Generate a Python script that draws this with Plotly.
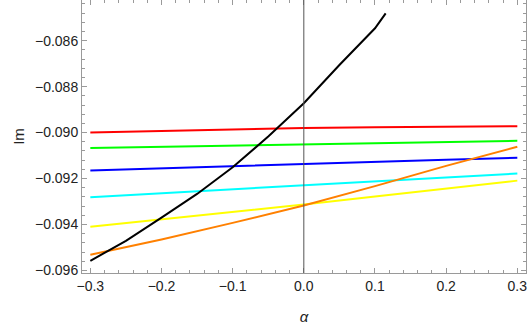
import plotly.graph_objects as go

# alpha grid shared by the straight-ish curves
alpha = [-0.3, -0.2, -0.1, 0.0, 0.1, 0.2, 0.3]

im_red = [-0.09000, -0.08993, -0.08986, -0.08980, -0.08977, -0.08974, -0.08972]
im_green = [-0.09067, -0.09062, -0.09057, -0.09052, -0.09047, -0.09041, -0.09036]
im_blue = [-0.09165, -0.09155, -0.09146, -0.09136, -0.09127, -0.09118, -0.09110]
im_cyan = [-0.09281, -0.09264, -0.09247, -0.09230, -0.09213, -0.09196, -0.09178]
im_yellow = [-0.09410, -0.09378, -0.09345, -0.09313, -0.09278, -0.09244, -0.09209]
im_orange = [-0.09532, -0.09465, -0.09393, -0.09317, -0.09233, -0.09145, -0.09062]

# black curve stops early
alpha_black = [-0.3, -0.25, -0.2, -0.15, -0.1, -0.05, 0.0, 0.05, 0.1, 0.115]
im_black = [-0.09558, -0.09471, -0.09370, -0.09267, -0.09151, -0.09017,
            -0.08872, -0.08706, -0.08546, -0.08481]

series = [
    (alpha, im_red, '#ff0000'),
    (alpha, im_green, '#00ff00'),
    (alpha, im_blue, '#0000ff'),
    (alpha, im_cyan, '#00ffff'),
    (alpha, im_yellow, '#ffff00'),
    (alpha, im_orange, '#ff8000'),
    (alpha_black, im_black, '#000000'),
]

fig = go.Figure()
for xs, ys, color in series:
    fig.add_trace(go.Scatter(x=xs, y=ys, mode='lines',
                             line=dict(color=color, width=2), showlegend=False))

# vertical axis line at alpha = 0
fig.add_shape(type='line', x0=0, x1=0, y0=0, y1=1, xref='x', yref='paper',
              line=dict(color='#555555', width=1))

frame = '#9a9a9a'
fig.update_xaxes(
    range=[-0.3117, 0.3122], tickvals=[-0.3, -0.2, -0.1, 0.0, 0.1, 0.2, 0.3],
    tickformat='.1f', ticks='inside', ticklen=5, tickcolor=frame,
    showline=True, linecolor=frame, linewidth=1, mirror='ticks',
    showgrid=False, zeroline=False, automargin=False,
    minor=dict(ticks='inside', ticklen=3, dtick=0.02, tick0=0, tickcolor=frame, showgrid=False),
    title=dict(text='<i>α</i>', standoff=18, font=dict(size=15, color='#222222')),
)
fig.update_yaxes(
    range=[-0.09611, -0.08423], tickvals=[-0.096, -0.094, -0.092, -0.090, -0.088, -0.086],
    tickformat='.3f', ticks='inside', ticklen=5, tickcolor=frame,
    showline=True, linecolor=frame, linewidth=1, mirror='ticks',
    showgrid=False, zeroline=False, automargin=False,
    minor=dict(ticks='inside', ticklen=3, dtick=0.0004, tick0=0, tickcolor=frame, showgrid=False),
    title=dict(text='Im', standoff=6, font=dict(size=15, color='#222222')),
)

fig.update_layout(
    width=528, height=327,
    margin=dict(l=82, r=2, t=0, b=54),
    paper_bgcolor='white', plot_bgcolor='white',
    font=dict(family='Liberation Sans, Arial, sans-serif', size=14, color='#222222'),
)

# drop the default page margin so the figure sits at the window's corner
fig.write_html("out.html", config={'displayModeBar': False},
               post_script="document.body.style.margin='0';")
